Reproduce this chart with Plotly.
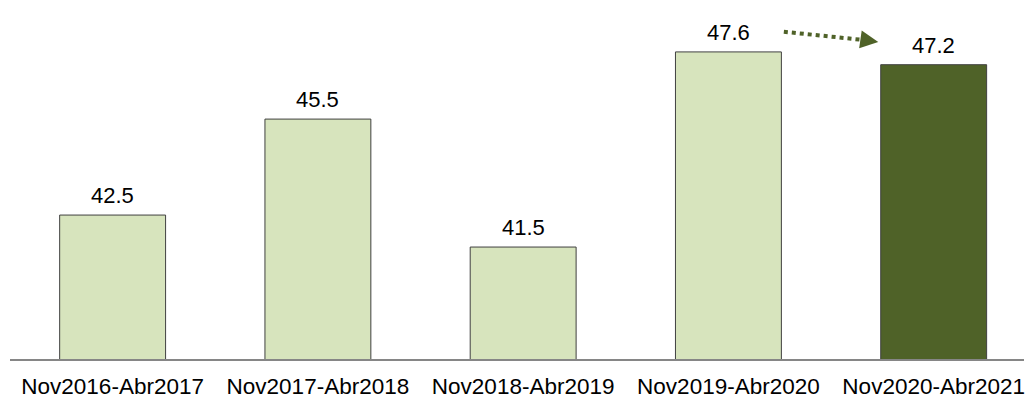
import plotly.graph_objects as go

# Periods and average values
periods = ["Nov2016-Abr2017", "Nov2017-Abr2018", "Nov2018-Abr2019",
           "Nov2019-Abr2020", "Nov2020-Abr2021"]
values = [42.5, 45.5, 41.5, 47.6, 47.2]

LIGHT = "#d7e4bd"
DARK = "#4f6228"
FONT = "Liberation Sans, Arial, sans-serif"

colors = [LIGHT] * (len(values) - 1) + [DARK]

fig = go.Figure()
fig.add_trace(go.Bar(
    x=periods,
    y=values,
    base=0,
    width=0.516,
    marker=dict(color=colors, line=dict(color="#404040", width=1)),
    hoverinfo="skip",
))

# Value labels above each bar
for p, v in zip(periods, values):
    fig.add_annotation(
        x=p, y=v, text=f"{v:.1f}", showarrow=False,
        yanchor="bottom", yshift=5,
        font=dict(family=FONT, size=22, color="#000000"),
    )

# Dotted arrow from the previous period's label to the latest one
n = len(values)
x0, x1 = (n - 2) + 0.27, (n - 2) + 0.70
y0, y1 = values[-2] + 0.63, values[-2] + 0.33
fig.add_shape(type="line", xref="x", yref="y",
              x0=x0, y0=y0, x1=x1, y1=y1 + (y0 - y1) * 0.05,
              line=dict(color=DARK, width=4, dash="dot"))
fig.add_annotation(
    x=x1 + 0.03, y=y1 - 0.02, xref="x", yref="y",
    ax=-14, ay=-2, axref="pixel", ayref="pixel",
    text="", showarrow=True, arrowhead=2, arrowsize=1.2,
    arrowwidth=3, arrowcolor=DARK, standoff=0,
)

fig.update_layout(
    width=1025, height=399,
    margin=dict(l=10, r=0, t=10, b=38),
    paper_bgcolor="white", plot_bgcolor="white",
    showlegend=False,
    bargap=0.484,
    xaxis=dict(
        type="category",
        range=[-0.5, 4.44],
        showline=True, linecolor="#868686", linewidth=1.5,
        showgrid=False, ticks="", ticklen=0,
        ticklabelstandoff=6,
        tickfont=dict(family=FONT, size=22.5, color="#000000"),
        fixedrange=True,
    ),
    yaxis=dict(
        range=[38, 48.91], visible=False, showgrid=False, zeroline=False,
        fixedrange=True,
    ),
)

fig.write_html("out.html")
